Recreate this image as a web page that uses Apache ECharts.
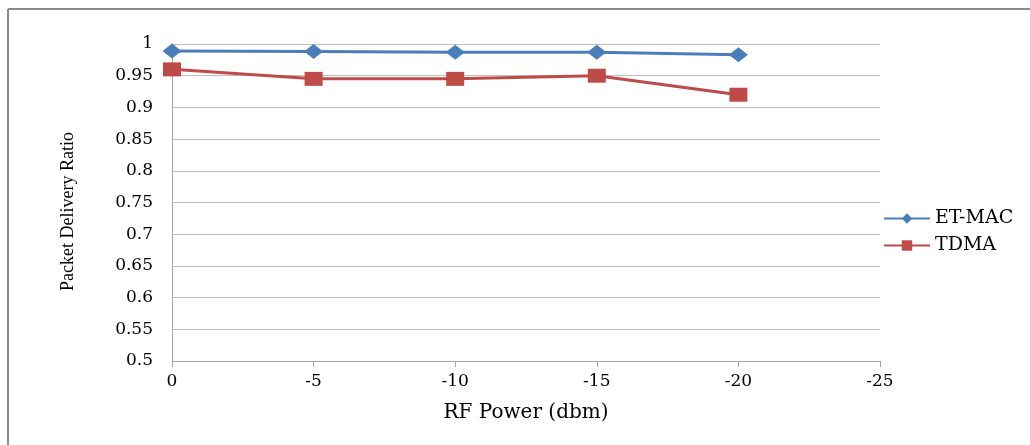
<!DOCTYPE html>
<html>
<head>
<meta charset="utf-8">
<script src="https://cdn.jsdelivr.net/npm/echarts@6/dist/echarts.min.js"></script>
<style>
html,body{margin:0;padding:0;background:#fff;}
#main{width:1030px;height:445px;}
</style>
</head>
<body>
<div id="main"></div>
<script>
// RF power steps (dbm)
var rfPower=[0,-5,-10,-15,-20];
var etMac=[0.989,0.988,0.987,0.987,0.983];
var tdma=[0.960,0.945,0.945,0.950,0.920];
var seriesNames=['ET-MAC','TDMA'];

function pairs(xs,ys){
  var out=[];
  for(var i=0;i<xs.length;i++){ out.push([xs[i],ys[i]]); }
  return out;
}

var myChart=echarts.init(document.getElementById('main'));
// the picture's text is a wide serif, DejaVu Serif comes closest in width
var wide='"DejaVu Serif",serif';
var narrow='"Liberation Serif","Times New Roman",serif';
var option={
  animation:false,
  backgroundColor:'#fff',
  grid:{left:172,right:150,top:44,bottom:84,containLabel:false},
  legend:{
    data:seriesNames,
    orient:'vertical',
    left:883,
    top:209,
    padding:0,
    itemWidth:46,
    itemHeight:13,
    itemGap:8,
    textStyle:{fontFamily:wide,fontSize:19,color:'#000'}
  },
  xAxis:{
    type:'value',
    min:-25,max:0,interval:5,
    inverse:true,
    name:'RF Power (dbm)',
    nameLocation:'middle',
    nameGap:42,
    nameTextStyle:{fontFamily:wide,fontSize:20,color:'#000'},
    axisLine:{lineStyle:{color:'#a6a6a6',width:1}},
    axisTick:{show:true,length:6,lineStyle:{color:'#a6a6a6'}},
    axisLabel:{fontFamily:wide,fontSize:17,color:'#000',margin:12},
    splitLine:{show:false}
  },
  yAxis:{
    type:'value',
    min:0.5,max:1,interval:0.05,
    name:'Packet Delivery Ratio',
    nameLocation:'middle',
    nameGap:95,
    nameTextStyle:{fontFamily:narrow,fontSize:18,color:'#000',padding:[0,18,0,0]},
    axisLine:{show:true,lineStyle:{color:'#a6a6a6',width:1}},
    axisTick:{show:false},
    axisLabel:{fontFamily:wide,fontSize:17,color:'#000',margin:19,
      formatter:function(v){return String(Math.round(v*100)/100);}},
    splitLine:{show:true,lineStyle:{color:'#bfbfbf',width:1}}
  },
  graphic:[
    {type:'line',shape:{x1:8,y1:9,x2:1030,y2:9},style:{stroke:'#8c8c8c',lineWidth:2}},
    {type:'line',shape:{x1:8,y1:9,x2:8,y2:445},style:{stroke:'#8c8c8c',lineWidth:2}}
  ],
  series:[
    {
      name:seriesNames[0],
      type:'line',
      data:pairs(rfPower,etMac),
      symbol:'diamond',
      symbolSize:[19,15],
      itemStyle:{color:'#4a7ebb'},
      lineStyle:{color:'#4a7ebb',width:3}
    },
    {
      name:seriesNames[1],
      type:'line',
      data:pairs(rfPower,tdma),
      symbol:'rect',
      symbolSize:[18,14],
      itemStyle:{color:'#be4b48'},
      lineStyle:{color:'#be4b48',width:3}
    }
  ]
};
myChart.setOption(option);
</script>
</body>
</html>
